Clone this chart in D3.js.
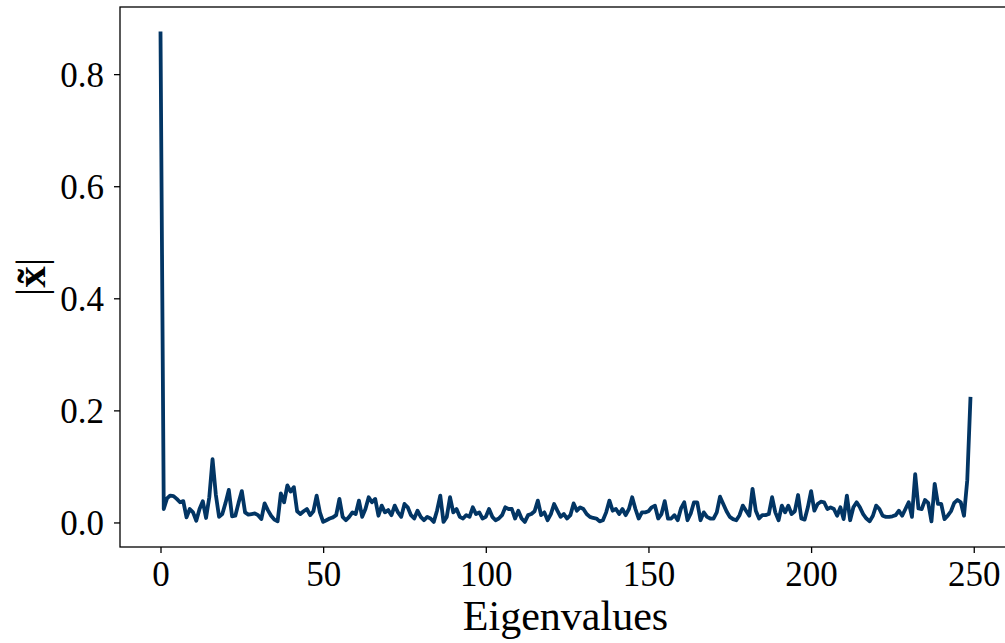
<!DOCTYPE html>
<html>
<head>
<meta charset="utf-8">
<script src="https://cdn.jsdelivr.net/npm/d3@7"></script>
<style>
  html, body { margin: 0; padding: 0; background: #fff; }
  svg { display: block; }
  text { font-family: "Liberation Serif", "Times New Roman", serif; fill: #000; }
</style>
</head>
<body>
<svg id="chart" width="1005" height="643"></svg>
<script>
// ---- data ----
const magnitudes = [
  0.876, 0.024, 0.043, 0.048, 0.047, 0.042, 0.036, 0.038, 0.009, 0.024,
  0.018, 0.003, 0.024, 0.038, 0.008, 0.045, 0.113, 0.050, 0.010, 0.015,
  0.035, 0.058, 0.011, 0.012, 0.035, 0.056, 0.018, 0.014, 0.015, 0.016,
  0.013, 0.006, 0.034, 0.022, 0.012, 0.005, 0.002, 0.052, 0.036, 0.066,
  0.055, 0.063, 0.020, 0.015, 0.020, 0.024, 0.013, 0.020, 0.048, 0.018,
  0.001, 0.004, 0.007, 0.009, 0.013, 0.042, 0.010, 0.004, 0.010, 0.018,
  0.015, 0.039, 0.010, 0.024, 0.045, 0.036, 0.042, 0.012, 0.030, 0.018,
  0.022, 0.013, 0.030, 0.018, 0.010, 0.033, 0.027, 0.013, 0.007, 0.021,
  0.010, 0.004, 0.010, 0.007, 0.001, 0.021, 0.048, 0.001, 0.010, 0.045,
  0.018, 0.024, 0.010, 0.007, 0.013, 0.010, 0.027, 0.015, 0.018, 0.007,
  0.010, 0.024, 0.010, 0.004, 0.007, 0.013, 0.027, 0.024, 0.024, 0.007,
  0.021, 0.007, 0.001, 0.013, 0.015, 0.020, 0.039, 0.013, 0.018, 0.004,
  0.015, 0.033, 0.021, 0.010, 0.015, 0.007, 0.013, 0.034, 0.021, 0.027,
  0.024, 0.015, 0.010, 0.008, 0.007, 0.002, 0.004, 0.018, 0.039, 0.021,
  0.024, 0.015, 0.024, 0.013, 0.024, 0.045, 0.024, 0.007, 0.018, 0.018,
  0.020, 0.027, 0.030, 0.007, 0.015, 0.038, 0.007, 0.007, 0.013, 0.004,
  0.025, 0.036, 0.004, 0.016, 0.036, 0.036, 0.004, 0.018, 0.010, 0.007,
  0.007, 0.018, 0.046, 0.033, 0.020, 0.010, 0.006, 0.004, 0.013, 0.030,
  0.021, 0.012, 0.060, 0.021, 0.007, 0.013, 0.013, 0.015, 0.045, 0.018,
  0.004, 0.030, 0.018, 0.030, 0.015, 0.020, 0.049, 0.007, 0.005, 0.027,
  0.056, 0.021, 0.033, 0.037, 0.036, 0.024, 0.027, 0.024, 0.012, 0.027,
  0.006, 0.048, 0.004, 0.027, 0.036, 0.027, 0.015, 0.007, 0.002, 0.012,
  0.030, 0.024, 0.012, 0.010, 0.010, 0.011, 0.013, 0.021, 0.012, 0.024,
  0.036, 0.010, 0.086, 0.025, 0.024, 0.040, 0.035, 0.002, 0.069, 0.033,
  0.033, 0.006, 0.012, 0.020, 0.035, 0.040, 0.036, 0.012, 0.075, 0.224
];
const xTicks = [0, 50, 100, 150, 200, 250];
const yTicks = [0.0, 0.2, 0.4, 0.6, 0.8];
const xLabel = "Eigenvalues";

// ---- layout ----
const svg = d3.select("#chart");
const mLeft = 120, mRight = 1011, mTop = 7, mBottom = 547;

const n = magnitudes.length;
const xPad = (n - 1) * 0.05;
const yMax = d3.max(magnitudes), yMin = 0;
const yPad = (yMax - yMin) * 0.05;

const x = d3.scaleLinear().domain([-xPad, n - 1 + xPad]).range([mLeft, mRight]);
const y = d3.scaleLinear().domain([yMin - yPad, yMax + yPad]).range([mBottom, mTop]);

// line
const line = d3.line().x((d, i) => x(i)).y(d => y(d));
svg.append("path")
  .datum(magnitudes)
  .attr("d", line)
  .attr("fill", "none")
  .attr("stroke", "#023564")
  .attr("stroke-width", 3.8)
  .attr("stroke-linejoin", "round")
  .attr("stroke-linecap", "butt");

// axes
const xAxis = svg.append("g")
  .attr("transform", `translate(0,${mBottom})`)
  .call(d3.axisBottom(x).tickValues(xTicks).tickFormat(d3.format("d")).tickSize(6).tickSizeOuter(0).tickPadding(8));
const yAxis = svg.append("g")
  .attr("transform", `translate(${mLeft},0)`)
  .call(d3.axisLeft(y).tickValues(yTicks).tickFormat(d3.format(".1f")).tickSize(6).tickSizeOuter(0).tickPadding(10));

[xAxis, yAxis].forEach(g => {
  g.select(".domain").remove();
  g.selectAll(".tick line").attr("stroke", "#000").attr("stroke-width", 1.3);
  g.selectAll(".tick text")
    .style("font-family", "'Liberation Serif', serif")
    .style("font-size", "35px")
    .attr("fill", "#000");
});
xAxis.selectAll(".tick text").attr("dy", "0.71em");
yAxis.selectAll(".tick text").attr("dy", "0.34em");

// frame
svg.append("rect")
  .attr("x", mLeft).attr("y", mTop)
  .attr("width", mRight - mLeft).attr("height", mBottom - mTop)
  .attr("fill", "none").attr("stroke", "#000").attr("stroke-width", 1.3);

// axis labels
svg.append("text")
  .attr("x", (mLeft + mRight) / 2)
  .attr("y", 630)
  .attr("text-anchor", "middle")
  .style("font-size", "42px")
  .text(xLabel);

const yl = svg.append("text")
  .attr("transform", "translate(45,277) rotate(-90)")
  .attr("text-anchor", "middle")
  .style("font-size", "43px");
yl.append("tspan").text("|");
yl.append("tspan").style("font-weight", "bold").text("x\u0303");
yl.append("tspan").text("|");
</script>
</body>
</html>
